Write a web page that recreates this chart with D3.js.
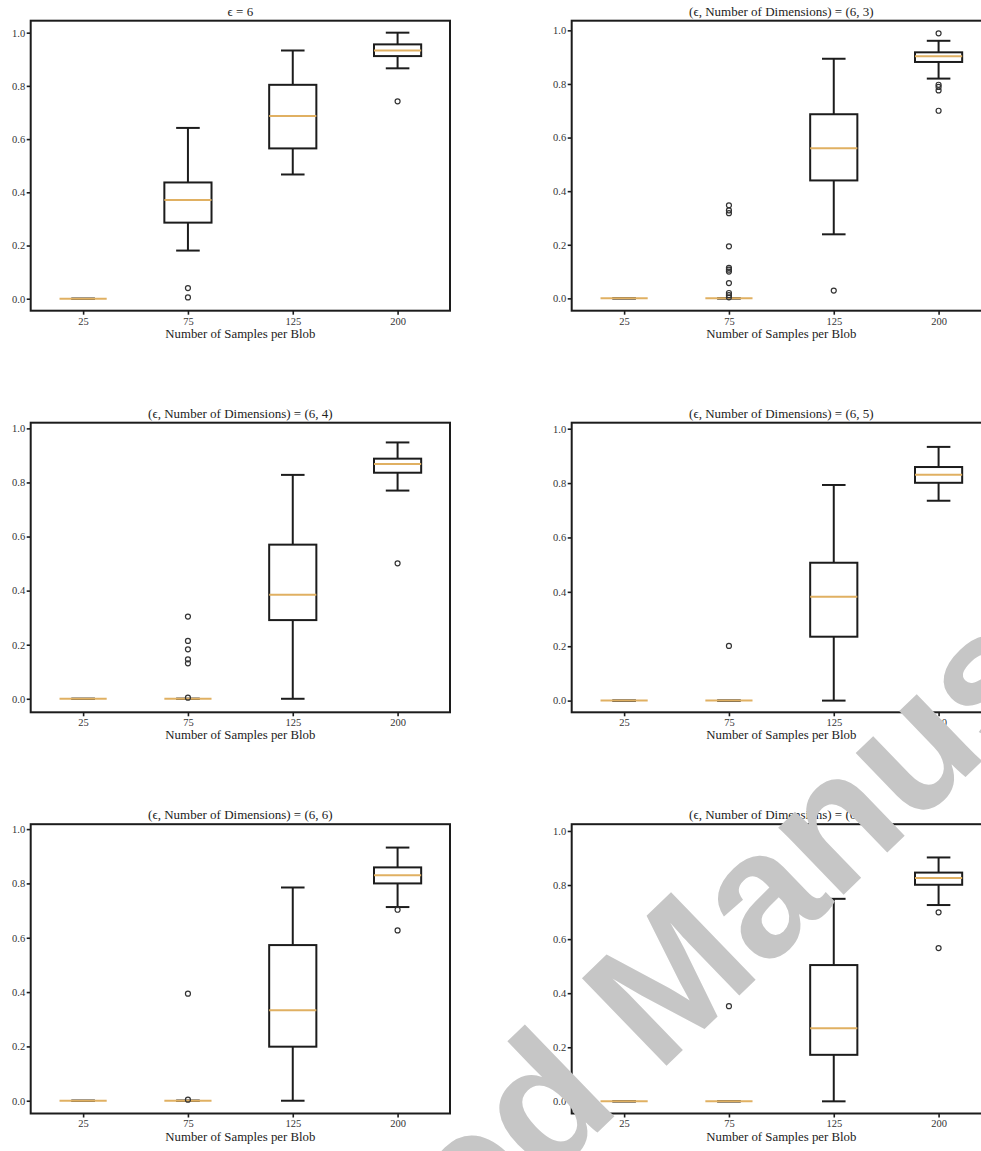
<!DOCTYPE html>
<html>
<head>
<meta charset="utf-8">
<script src="https://cdn.jsdelivr.net/npm/d3@7"></script>
<style>
  html, body { margin: 0; padding: 0; background: #fff; }
  svg { display: block; }
</style>
</head>
<body>
<script>
// ---------------- data ----------------
const categories = ["25", "75", "125", "200"];
const yTickValues = [0.0, 0.2, 0.4, 0.6, 0.8, 1.0];
const xLabel = "Number of Samples per Blob";
const titles = [
  "ϵ = 6",
  "(ϵ, Number of Dimensions) = (6, 3)",
  "(ϵ, Number of Dimensions) = (6, 4)",
  "(ϵ, Number of Dimensions) = (6, 5)",
  "(ϵ, Number of Dimensions) = (6, 6)",
  "(ϵ, Number of Dimensions) = (6, 7)"
];
// per panel, per category
const whiskerLow = [
  [0, 0.181, 0.467, 0.866],
  [0, 0, 0.239, 0.820],
  [0, 0, 0.000, 0.770],
  [0, 0, 0.000, 0.735],
  [0, 0, 0.000, 0.713],
  [0, 0, 0.000, 0.726]
];
const q1 = [
  [0, 0.286, 0.565, 0.912],
  [0, 0, 0.440, 0.882],
  [0, 0, 0.291, 0.836],
  [0, 0, 0.235, 0.801],
  [0, 0, 0.199, 0.800],
  [0, 0, 0.172, 0.801]
];
const medians = [
  [0, 0.371, 0.687, 0.933],
  [0, 0, 0.560, 0.903],
  [0, 0, 0.385, 0.868],
  [0, 0, 0.382, 0.831],
  [0, 0, 0.333, 0.830],
  [0, 0, 0.270, 0.826]
];
const q3 = [
  [0, 0.437, 0.804, 0.956],
  [0, 0, 0.687, 0.918],
  [0, 0, 0.570, 0.888],
  [0, 0, 0.507, 0.859],
  [0, 0, 0.573, 0.859],
  [0, 0, 0.504, 0.846]
];
const whiskerHigh = [
  [0, 0.642, 0.933, 1.000],
  [0, 0, 0.894, 0.961],
  [0, 0, 0.828, 0.948],
  [0, 0, 0.793, 0.933],
  [0, 0, 0.785, 0.932],
  [0, 0, 0.749, 0.902]
];
const fliers = [
  [[], [0.040, 0.005], [], [0.742]],
  [[], [0.347, 0.328, 0.318, 0.194, 0.114, 0.107, 0.100, 0.057, 0.020, 0.012, 0.004], [0.029], [0.989, 0.797, 0.789, 0.776, 0.700]],
  [[], [0.304, 0.214, 0.183, 0.146, 0.131, 0.004], [], [0.501]],
  [[], [0.201], [], []],
  [[], [0.394, 0.004], [], [0.703, 0.627]],
  [[], [0.352], [], [0.699, 0.567]]
];
// y-axis limits
const yLimLow  = [-0.045, -0.046, -0.050, -0.043, -0.047, -0.045];
const yLimHigh = [ 1.045,  1.036,  1.021,  1.022,  1.018,  1.025];
const watermarkText = ["Accepted", "Manuscript"];

// ---------------- layout ----------------
const W = 981, H = 1151;
const cols = [{ left: 30.7, right: 450 }, { left: 571.7, right: 991 }];
const rows = [{ top: 20.7, bottom: 310.7 }, { top: 422.7, bottom: 712.3 }, { top: 824.2, bottom: 1113.5 }];
const serif = "'Liberation Serif', 'DejaVu Serif', serif";
const medianColor = "#e0b062";
const ink = "#1c1c1c";

const svg = d3.select("body").append("svg")
  .attr("width", W).attr("height", H)
  .attr("viewBox", `0 0 ${W} ${H}`);

titles.forEach((title, p) => {
  const c = cols[p % 2], r = rows[Math.floor(p / 2)];
  const x = d3.scaleLinear().domain([0.5, 4.5]).range([c.left, c.right]);
  const y = d3.scaleLinear().domain([yLimLow[p], yLimHigh[p]]).range([r.bottom, r.top]);
  const g = svg.append("g");
  const boxW = 0.45, capW = boxW / 2;

  const yAxis = d3.axisLeft(y).tickValues(yTickValues).tickFormat(d3.format(".1f")).tickSize(4).tickPadding(1.5);
  const ya = g.append("g").attr("transform", `translate(${c.left},0)`).call(yAxis);
  ya.select(".domain").remove();
  ya.selectAll("line").attr("stroke", ink).attr("stroke-width", 1.6);
  ya.selectAll("text").attr("font-family", serif).attr("font-size", 10.5).attr("fill", "#333");

  const xAxis = d3.axisBottom(x).tickValues([1, 2, 3, 4]).tickFormat((d, i) => categories[i]).tickSize(4).tickPadding(2.5);
  const xa = g.append("g").attr("transform", `translate(0,${r.bottom})`).call(xAxis);
  xa.select(".domain").remove();
  xa.selectAll("line").attr("stroke", ink).attr("stroke-width", 1.6);
  xa.selectAll("text").attr("font-family", serif).attr("font-size", 10.5).attr("fill", "#333");

  categories.forEach((cat, i) => {
    const cx = x(i + 1);
    const bx0 = x(i + 1 - boxW / 2), bx1 = x(i + 1 + boxW / 2);
    const cx0 = x(i + 1 - capW / 2), cx1 = x(i + 1 + capW / 2);
    const line = (x1, y1, x2, y2, col, w) => g.append("line")
      .attr("x1", x1).attr("y1", y1).attr("x2", x2).attr("y2", y2)
      .attr("stroke", col).attr("stroke-width", w);
    line(cx, y(q1[p][i]), cx, y(whiskerLow[p][i]), ink, 2);
    line(cx, y(q3[p][i]), cx, y(whiskerHigh[p][i]), ink, 2);
    line(cx0, y(whiskerLow[p][i]), cx1, y(whiskerLow[p][i]), ink, 2);
    line(cx0, y(whiskerHigh[p][i]), cx1, y(whiskerHigh[p][i]), ink, 2);
    g.append("rect")
      .attr("x", bx0).attr("y", y(q3[p][i]))
      .attr("width", bx1 - bx0).attr("height", Math.max(0, y(q1[p][i]) - y(q3[p][i])))
      .attr("fill", "none").attr("stroke", ink).attr("stroke-width", 2);
    line(bx0, y(medians[p][i]), bx1, y(medians[p][i]), medianColor, 2);
    g.selectAll(null).data(fliers[p][i]).enter().append("circle")
      .attr("cx", cx).attr("cy", d => y(d)).attr("r", 2.5)
      .attr("fill", "none").attr("stroke", "#333").attr("stroke-width", 1.2);
  });

  g.append("rect")
    .attr("x", c.left).attr("y", r.top)
    .attr("width", c.right - c.left).attr("height", r.bottom - r.top)
    .attr("fill", "none").attr("stroke", ink).attr("stroke-width", 2);

  g.append("text")
    .attr("x", (c.left + c.right) / 2).attr("y", r.top - 5)
    .attr("text-anchor", "middle")
    .attr("font-family", serif).attr("font-size", 13).attr("fill", "#222")
    .text(title);

  g.append("text")
    .attr("x", (c.left + c.right) / 2).attr("y", r.bottom + 27)
    .attr("text-anchor", "middle")
    .attr("font-family", serif).attr("font-size", 12.8).attr("fill", "#222")
    .text(xLabel);
});

// watermark
const wm = svg.append("g")
  .attr("transform", "translate(658,1074) rotate(-44)")
  .attr("font-family", "'Liberation Sans', Arial, sans-serif")
  .attr("font-weight", "bold")
  .attr("font-size", 177)
  .attr("fill", "#c6c6c6");
wm.append("text").attr("x", -49).attr("text-anchor", "end").text(watermarkText[0]);
wm.append("text").attr("x", 0).attr("text-anchor", "start").text(watermarkText[1]);
</script>
</body>
</html>
